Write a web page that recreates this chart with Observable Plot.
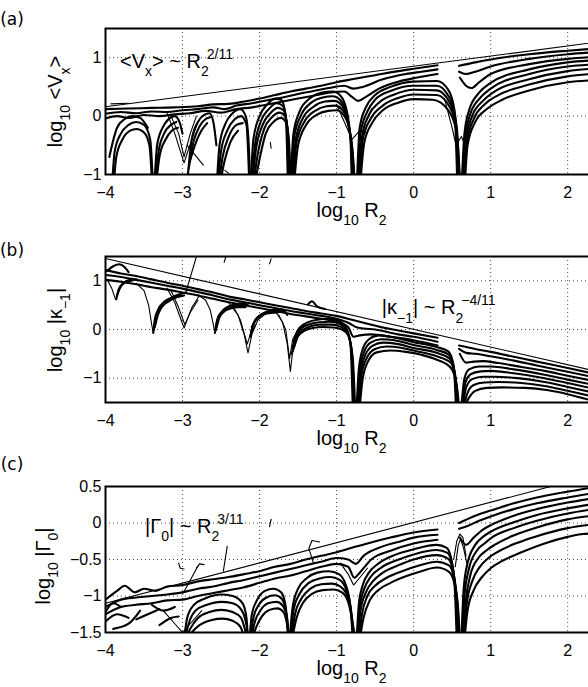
<!DOCTYPE html>
<html><head><meta charset="utf-8">
<script src="https://cdn.jsdelivr.net/npm/d3@7"></script>
<script src="https://cdn.jsdelivr.net/npm/@observablehq/plot@0.6"></script>
<style>
html,body{margin:0;padding:0;background:#fff;overflow:hidden;}
#wrap{position:relative;width:588px;height:687px;overflow:hidden;background:#fff;}
</style></head><body><div id="wrap"></div>
<script>
// ---------- shared ticks ----------
const xTicks = [-4, -3, -2, -1, 0, 1, 2];
const xGrid = [-3, -2, -1, 0, 1, 2];

// ---------- panel (a): log10 <Vx> ----------
const vxTicks = [-1, 0, 1];
const vxGrid = [0, 1];
const vxGuide = [-4, 0.16, 2.4, 1.27];
const vxTop = [
 [-4,0.12,-3.7,0.13,-3.4,0.14,-3.1,0.15,-2.8,0.17,-2.6,0.2,-2.4,0.21,-2.2,0.25,-2.0,0.3,-1.8,0.36,-1.6,0.42,-1.4,0.47,-1.2,0.52,-1.0,0.58,-0.8,0.63,-0.5,0.7,-0.2,0.77,0.0,0.81,0.31,0.87],
 [-4,0.04,-3.8,0.07,-3.6,0.05,-3.4,0.08,-3.2,0.07,-3.0,0.1,-2.8,0.12,-2.6,0.15,-2.45,0.12,-2.3,0.18,-2.1,0.22,-1.9,0.27,-1.7,0.32,-1.5,0.38,-1.3,0.43,-1.1,0.48,-0.9,0.52,-0.78,0.47,-0.66,0.5,-0.4,0.63,-0.1,0.72,0.1,0.76,0.31,0.8],
 [-4,-0.04,-3.85,0.0,-3.7,-0.03,-3.5,0.02,-3.3,0.0,-3.1,0.03,-2.9,0.05,-2.7,0.09,-2.5,0.06,-2.3,0.12,-2.1,0.15,-1.9,0.2,-1.7,0.25,-1.5,0.3,-1.3,0.35,-1.1,0.4,-0.9,0.42,-0.8,0.33,-0.72,0.26,-0.62,0.33,-0.45,0.47,-0.2,0.59,0.05,0.66,0.31,0.72]
];
const vxLeft = [
 [-3.92,-1.3,-3.88,-0.6,-3.8,-0.3,-3.7,-0.15,-3.6,-0.1,-3.5,-0.15,-3.42,-0.4,-3.38,-1.3],
 [-3.9,-1.3,-3.86,-0.7,-3.78,-0.4,-3.68,-0.25,-3.6,-0.22,-3.5,-0.28,-3.43,-0.5,-3.39,-1.3],
 [-3.95,-0.7,-3.85,-0.2,-3.75,-0.05,-3.65,0.0,-3.55,-0.03,-3.45,-0.2],
 [-3.37,-1.3,-3.33,-0.5,-3.26,-0.2,-3.18,-0.05,-3.1,0.0,-3.04,-0.1,-3.0,-0.3],
 [-3.36,-1.3,-3.31,-0.6,-3.24,-0.3,-3.15,-0.15,-3.08,-0.1],
 [-3.35,-1.3,-3.3,-0.7,-3.22,-0.4,-3.14,-0.25,-3.06,-0.2],
 [-2.93,-1.0,-2.88,-0.4,-2.8,-0.1,-2.72,0.02,-2.65,0.05,-2.6,-0.1,-2.56,-0.5],
 [-2.92,-0.9,-2.86,-0.45,-2.78,-0.18,-2.7,-0.05,-2.64,-0.02],
 [-2.91,-0.8,-2.84,-0.5,-2.76,-0.26,-2.68,-0.12],
 [-2.56,-1.3,-2.52,-0.5,-2.45,-0.15,-2.35,0.05,-2.25,0.12,-2.18,0.0,-2.14,-0.5,-2.12,-1.3],
 [-2.55,-1.3,-2.5,-0.6,-2.42,-0.25,-2.32,-0.05,-2.24,0.0,-2.17,-0.15,-2.13,-1.3],
 [-2.54,-1.3,-2.48,-0.7,-2.4,-0.35,-2.3,-0.15,-2.22,-0.12],
 [-2.53,-1.3,-2.46,-0.8,-2.38,-0.45,-2.28,-0.25],
 [-2.12,-1.3,-2.08,-0.4,-2.0,0.0,-1.9,0.2,-1.8,0.3,-1.72,0.28,-1.66,0.0,-1.63,-1.3],
 [-2.11,-1.3,-2.06,-0.5,-1.98,-0.08,-1.88,0.12,-1.78,0.22,-1.7,0.18,-1.65,-0.1,-1.62,-1.3],
 [-2.1,-1.3,-2.05,-0.6,-1.96,-0.15,-1.86,0.05,-1.76,0.14,-1.69,0.1,-1.64,-0.2,-1.61,-1.3],
 [-2.09,-1.3,-2.03,-0.7,-1.94,-0.22,-1.84,-0.02,-1.74,0.06,-1.67,0.0,-1.63,-0.3,-1.6,-1.3],
 [-2.08,-1.3,-2.01,-0.8,-1.92,-0.3,-1.82,-0.1,-1.72,-0.03,-1.66,-0.1,-1.62,-0.4,-1.59,-1.3],
 [-1.6,-1.3,-1.56,-0.3,-1.48,0.08,-1.35,0.3,-1.2,0.4,-1.05,0.42,-0.95,0.35,-0.87,0.1,-0.82,-0.4,-0.8,-1.3],
 [-1.59,-1.3,-1.55,-0.35,-1.46,0.02,-1.33,0.23,-1.18,0.32,-1.05,0.34,-0.95,0.27,-0.87,0.02,-0.81,-0.5,-0.79,-1.3],
 [-1.58,-1.3,-1.53,-0.4,-1.44,-0.04,-1.3,0.16,-1.15,0.25,-1.03,0.26,-0.93,0.18,-0.86,-0.05,-0.8,-0.6,-0.78,-1.3],
 [-1.57,-1.3,-1.52,-0.45,-1.42,-0.1,-1.28,0.09,-1.13,0.17,-1.02,0.18,-0.92,0.1,-0.85,-0.12,-0.79,-0.7,-0.77,-1.3],
 [-1.56,-1.3,-1.5,-0.5,-1.4,-0.16,-1.26,0.02,-1.11,0.09,-1.0,0.1,-0.91,0.02,-0.84,-0.2,-0.78,-0.8,-0.76,-1.3]
];
const vxMid = [
 [-0.74,-1.3,-0.7,-0.2,-0.62,0.15,-0.5,0.36,-0.3,0.5,0.0,0.59,0.3,0.6,0.45,0.45,0.53,0.1,0.57,-1.3],
 [-0.73,-1.3,-0.69,-0.3,-0.6,0.08,-0.5,0.28,-0.3,0.43,0.0,0.52,0.3,0.52,0.45,0.35,0.54,0.0,0.58,-1.3],
 [-0.72,-1.3,-0.67,-0.35,-0.58,0.02,-0.45,0.23,-0.25,0.37,0.0,0.45,0.3,0.44,0.46,0.25,0.55,-0.1,0.59,-1.3],
 [-0.71,-1.3,-0.66,-0.4,-0.56,-0.05,-0.4,0.18,-0.2,0.31,0.0,0.37,0.3,0.36,0.47,0.15,0.56,-0.2,0.6,-1.3],
 [-0.7,-1.3,-0.64,-0.45,-0.54,-0.12,-0.4,0.1,-0.2,0.23,0.0,0.29,0.25,0.28,0.45,0.1,0.56,-0.3,0.61,-1.3]
];
const vxRight = [
 [0.59,0.86,0.8,0.92,1.0,0.97,1.5,1.06,2.0,1.12,2.4,1.16],
 [0.59,0.76,0.68,0.72,0.8,0.76,1.0,0.85,1.5,0.98,2.0,1.06,2.4,1.1],
 [0.6,0.66,0.68,0.52,0.75,0.48,0.85,0.58,1.0,0.72,1.5,0.89,2.0,0.98,2.4,1.02],
 [0.62,-1.3,0.66,-0.3,0.72,0.1,0.85,0.4,1.0,0.57,1.5,0.8,2.0,0.92,2.4,0.96],
 [0.63,-1.3,0.67,-0.35,0.74,0.05,0.87,0.32,1.0,0.47,1.5,0.72,2.0,0.85,2.4,0.89],
 [0.64,-1.3,0.68,-0.4,0.76,0.0,0.9,0.26,1.05,0.42,1.5,0.63,2.0,0.77,2.4,0.82],
 [0.65,-1.3,0.69,-0.45,0.78,-0.05,0.92,0.2,1.1,0.36,1.5,0.54,2.0,0.68,2.4,0.73],
 [0.66,-1.3,0.7,-0.5,0.8,-0.1,0.95,0.12,1.15,0.28,1.5,0.44,2.0,0.58,2.4,0.62]
];
const vxThin = [
 [-3.2,0.05,-3.1,-0.3,-2.98,-0.8,-2.88,-0.4,-2.8,-0.1],
 [-3.15,0.0,-3.05,-0.3,-2.98,-0.7,-2.9,-0.3,-2.82,0.0],
 [-1.0,0.2,-0.9,-0.1,-0.8,-0.4,-0.7,-0.25,-0.6,-0.3],
 [0.4,0.3,0.5,-0.2,0.55,-0.5,0.62,-0.35,0.7,-0.6]
];
const vxStray = [
 [-2.94,-0.5,-2.73,-0.84],
 [-1.86,-0.45,-1.85,-0.55],
 [-3.93,0.21,-3.7,0.22],
 [-2.45,-0.93,-2.4,-0.98]
];

// ---------- panel (b): log10 |kappa_-1| ----------
const kTicks = [-1, 0, 1];
const kGrid = [-1, 0, 1];
const kGuide = [-4, 1.46, 2.4, -0.87];
const kTop = [
 [-4,1.22,-3.8,1.15,-3.6,1.1,-3.4,1.03,-3.2,0.96,-3.0,0.9,-2.8,0.83,-2.6,0.76,-2.4,0.68,-2.2,0.62,-2.0,0.56,-1.8,0.5,-1.6,0.44,-1.4,0.38,-1.2,0.33,-1.0,0.28,-0.8,0.2,-0.6,0.12,-0.4,0.04,-0.2,-0.02,0.0,-0.08,0.31,-0.17],
 [-4,1.12,-3.8,1.08,-3.6,1.02,-3.4,0.96,-3.2,0.9,-3.0,0.84,-2.8,0.77,-2.6,0.7,-2.4,0.62,-2.2,0.56,-2.0,0.5,-1.8,0.44,-1.6,0.38,-1.4,0.33,-1.2,0.28,-1.0,0.22,-0.85,0.14,-0.75,0.05,-0.65,0.02,-0.5,0.0,-0.2,-0.1,0.0,-0.15,0.31,-0.25],
 [-4,1.02,-3.8,0.98,-3.6,0.93,-3.4,0.87,-3.2,0.82,-3.0,0.76,-2.8,0.7,-2.6,0.63,-2.4,0.56,-2.2,0.5,-2.0,0.44,-1.8,0.38,-1.6,0.32,-1.4,0.27,-1.2,0.22,-1.0,0.16,-0.85,0.05,-0.78,-0.15,-0.7,-0.12,-0.55,-0.1,-0.3,-0.15,0.0,-0.22,0.31,-0.33]
];
const kLeft = [
 [-3.86,0.62,-3.83,0.82,-3.77,0.95,-3.68,1.02,-3.6,1.03],
 [-3.85,0.7,-3.81,0.86,-3.75,0.96,-3.66,1.0],
 [-3.38,-0.07,-3.36,0.2,-3.32,0.4,-3.25,0.55,-3.15,0.65,-3.05,0.72,-2.95,0.76],
 [-3.37,0.0,-3.34,0.25,-3.3,0.42,-3.22,0.56,-3.12,0.64,-3.02,0.7],
 [-3.36,0.05,-3.32,0.3,-3.27,0.46,-3.18,0.58,-3.08,0.66,-2.98,0.7],
 [-2.58,-0.07,-2.55,0.2,-2.5,0.35,-2.42,0.46,-2.32,0.52,-2.22,0.54,-2.15,0.5],
 [-2.57,-0.02,-2.54,0.22,-2.48,0.36,-2.4,0.44,-2.3,0.49,-2.2,0.5],
 [-2.56,0.03,-2.52,0.25,-2.46,0.37,-2.38,0.43,-2.28,0.46,-2.18,0.46],
 [-2.12,-0.15,-2.08,0.12,-2.0,0.28,-1.9,0.37,-1.8,0.41,-1.7,0.4,-1.64,0.3],
 [-2.11,-0.05,-2.06,0.18,-1.98,0.3,-1.88,0.36,-1.78,0.38,-1.68,0.36],
 [-2.1,0.05,-2.04,0.22,-1.96,0.31,-1.86,0.34,-1.76,0.35],
 [-1.58,-0.5,-1.54,-0.15,-1.47,0.05,-1.37,0.15,-1.25,0.2,-1.1,0.22,-0.98,0.18,-0.88,0.05,-0.82,-0.3,-0.79,-1.6],
 [-1.57,-0.45,-1.53,-0.15,-1.46,0.02,-1.35,0.11,-1.22,0.15,-1.08,0.16,-0.96,0.12,-0.87,0.0,-0.81,-0.4,-0.78,-1.6],
 [-1.56,-0.4,-1.51,-0.15,-1.44,-0.01,-1.33,0.07,-1.2,0.1,-1.06,0.1,-0.95,0.06,-0.86,-0.06,-0.8,-0.5,-0.77,-1.6],
 [-1.55,-0.35,-1.5,-0.14,-1.42,-0.03,-1.31,0.03,-1.18,0.05,-1.04,0.04,-0.93,0.0,-0.85,-0.12,-0.79,-0.6,-0.76,-1.6],
 [-3.98,1.2,-3.9,1.3,-3.82,1.34,-3.75,1.28,-3.7,1.18],
 [-1.37,0.52,-1.32,0.58,-1.25,0.47,-1.15,0.42]
];
const kMid = [
 [-0.74,-1.6,-0.71,-0.8,-0.66,-0.4,-0.58,-0.2,-0.45,-0.12,-0.3,-0.15,0.0,-0.26,0.3,-0.36,0.45,-0.45,0.52,-0.75,0.55,-1.6],
 [-0.73,-1.6,-0.7,-0.85,-0.64,-0.45,-0.56,-0.27,-0.42,-0.2,-0.25,-0.22,0.0,-0.32,0.3,-0.42,0.46,-0.52,0.53,-0.85,0.56,-1.6],
 [-0.72,-1.6,-0.69,-0.9,-0.62,-0.5,-0.53,-0.33,-0.4,-0.27,-0.2,-0.3,0.0,-0.38,0.3,-0.48,0.47,-0.6,0.54,-0.95,0.57,-1.6],
 [-0.71,-1.6,-0.68,-0.95,-0.6,-0.56,-0.5,-0.4,-0.35,-0.35,-0.15,-0.38,0.05,-0.45,0.3,-0.55,0.48,-0.68,0.55,-1.05,0.58,-1.6],
 [-0.7,-1.6,-0.66,-1.0,-0.58,-0.62,-0.48,-0.47,-0.3,-0.43,-0.1,-0.46,0.1,-0.52,0.3,-0.62,0.48,-0.78,0.56,-1.15,0.59,-1.6]
];
const kRight = [
 [0.59,-0.33,0.8,-0.4,1.0,-0.46,1.3,-0.56,1.6,-0.66,2.0,-0.79,2.4,-0.93],
 [0.59,-0.4,0.68,-0.48,0.8,-0.5,1.0,-0.55,1.3,-0.64,1.6,-0.74,2.0,-0.87,2.4,-1.0],
 [0.6,-0.5,0.68,-0.68,0.78,-0.66,0.9,-0.65,1.1,-0.69,1.4,-0.77,1.7,-0.85,2.0,-0.95,2.4,-1.08],
 [0.62,-1.6,0.66,-1.0,0.72,-0.82,0.85,-0.76,1.0,-0.76,1.3,-0.82,1.7,-0.93,2.0,-1.03,2.4,-1.16],
 [0.63,-1.6,0.67,-1.1,0.74,-0.92,0.87,-0.86,1.0,-0.85,1.3,-0.9,1.7,-1.0,2.0,-1.1,2.4,-1.24],
 [0.64,-1.6,0.68,-1.2,0.76,-1.02,0.9,-0.97,1.05,-0.97,1.35,-1.0,1.7,-1.08,2.0,-1.18,2.4,-1.32],
 [0.65,-1.6,0.7,-1.3,0.78,-1.14,0.92,-1.09,1.1,-1.08,1.4,-1.1,1.7,-1.16,2.0,-1.26,2.4,-1.4],
 [0.66,-1.6,0.72,-1.4,0.8,-1.26,0.95,-1.2,1.15,-1.19,1.45,-1.2,1.75,-1.25,2.0,-1.33,2.4,-1.5]
];
const kThin = [
 [-3.97,1.0,-3.92,0.85,-3.87,0.62],
 [-3.6,0.95,-3.5,0.8,-3.44,0.5,-3.4,0.1,-3.38,-0.07],
 [-3.2,0.85,-3.1,0.55,-2.98,0.03,-2.88,0.45,-2.78,0.7],
 [-3.15,0.8,-3.05,0.45,-2.97,0.1,-2.9,0.35,-2.8,0.6],
 [-2.8,0.72,-2.7,0.6,-2.64,0.4,-2.6,0.1,-2.58,-0.07],
 [-2.4,0.55,-2.28,0.3,-2.2,-0.1,-2.15,-0.48,-2.1,-0.1,-2.02,0.2,-1.9,0.35],
 [-2.35,0.5,-2.25,0.2,-2.16,-0.3,-2.12,-0.1,-2.05,0.1],
 [-1.8,0.38,-1.7,0.15,-1.64,-0.3,-1.6,-0.86,-1.56,-0.3,-1.5,-0.02,-1.4,0.12],
 [-1.75,0.3,-1.66,0.0,-1.61,-0.6,-1.57,-0.2,-1.48,0.05]
];
const kStray = [
 [-2.81,1.55,-2.96,0.75],
 [-2.44,1.48,-2.46,1.38],
 [-1.85,1.45,-1.87,1.35]
];

// ---------- panel (c): log10 |Gamma_0| ----------
const gTicks = [-1.5, -1, -0.5, 0, 0.5];
const gGrid = [-1, -0.5, 0];
const gGuide = [-4, -1.1, 1.78, 0.5];
const gPointer = [-2.42, -0.32, -2.47, -0.66];
const gTop = [
 [-4,-1.05,-3.85,-0.93,-3.75,-0.86,-3.62,-0.95,-3.5,-0.9,-3.35,-0.93,-3.2,-0.87,-3.0,-0.85,-2.8,-0.8,-2.6,-0.77,-2.4,-0.74,-2.2,-0.7,-2.0,-0.66,-1.8,-0.6,-1.6,-0.56,-1.4,-0.5,-1.2,-0.45,-1.0,-0.4,-0.8,-0.34,-0.6,-0.28,-0.3,-0.2,0.0,-0.13,0.31,-0.09],
 [-4,-1.15,-3.8,-1.05,-3.6,-1.02,-3.4,-1.0,-3.2,-0.98,-3.0,-0.95,-2.8,-0.9,-2.6,-0.87,-2.4,-0.82,-2.2,-0.78,-2.0,-0.73,-1.8,-0.68,-1.6,-0.63,-1.4,-0.58,-1.2,-0.53,-1.0,-0.48,-0.85,-0.5,-0.75,-0.56,-0.65,-0.45,-0.4,-0.32,-0.2,-0.26,0.0,-0.2,0.31,-0.16],
 [-4,-1.25,-3.8,-1.15,-3.6,-1.12,-3.4,-1.1,-3.2,-1.06,-3.0,-1.05,-2.8,-1.0,-2.6,-0.96,-2.4,-0.92,-2.2,-0.88,-2.0,-0.82,-1.8,-0.76,-1.6,-0.72,-1.4,-0.66,-1.2,-0.6,-1.0,-0.56,-0.85,-0.6,-0.77,-0.75,-0.7,-0.68,-0.55,-0.5,-0.3,-0.38,0.0,-0.28,0.31,-0.23]
];
const gLeft = [
 [-4,-1.35,-3.85,-1.25,-3.7,-1.3],
 [-3.9,-1.45,-3.7,-1.38,-3.55,-1.2],
 [-3.6,-1.32,-3.45,-1.25,-3.3,-1.18],
 [-3.4,-1.12,-3.25,-1.2,-3.1,-1.15],
 [-3.3,-1.4,-3.15,-1.3,-3.05,-1.28],
 [-4,-1.22,-3.9,-1.1,-3.8,-1.15],
 [-2.98,-1.6,-2.94,-1.3,-2.85,-1.12,-2.7,-1.03,-2.5,-0.98,-2.35,-1.0,-2.22,-1.1,-2.17,-1.3,-2.15,-1.6],
 [-2.97,-1.6,-2.92,-1.38,-2.83,-1.2,-2.68,-1.12,-2.5,-1.08,-2.35,-1.1,-2.23,-1.2,-2.17,-1.4,-2.15,-1.6],
 [-2.96,-1.6,-2.9,-1.45,-2.8,-1.3,-2.65,-1.22,-2.5,-1.19,-2.35,-1.22,-2.24,-1.3,-2.18,-1.5],
 [-2.95,-1.6,-2.88,-1.5,-2.78,-1.4,-2.62,-1.33,-2.48,-1.31,-2.35,-1.34,-2.25,-1.42,-2.19,-1.6],
 [-2.13,-1.6,-2.1,-1.25,-2.03,-1.05,-1.93,-0.93,-1.82,-0.9,-1.72,-0.95,-1.66,-1.15,-1.63,-1.6],
 [-2.12,-1.6,-2.08,-1.3,-2.01,-1.12,-1.91,-1.02,-1.8,-0.99,-1.71,-1.04,-1.65,-1.25,-1.62,-1.6],
 [-2.11,-1.6,-2.06,-1.35,-1.99,-1.2,-1.89,-1.1,-1.78,-1.08,-1.7,-1.13,-1.64,-1.32,-1.62,-1.6],
 [-2.1,-1.6,-2.04,-1.42,-1.97,-1.28,-1.87,-1.19,-1.77,-1.17,-1.69,-1.22,-1.64,-1.4,-1.61,-1.6],
 [-1.61,-1.6,-1.57,-1.15,-1.5,-0.9,-1.38,-0.75,-1.25,-0.68,-1.1,-0.66,-0.97,-0.7,-0.88,-0.85,-0.82,-1.15,-0.79,-1.6],
 [-1.6,-1.6,-1.56,-1.2,-1.48,-0.97,-1.36,-0.82,-1.22,-0.76,-1.08,-0.74,-0.96,-0.78,-0.87,-0.93,-0.81,-1.22,-0.78,-1.6],
 [-1.59,-1.6,-1.54,-1.25,-1.46,-1.04,-1.34,-0.9,-1.2,-0.84,-1.06,-0.83,-0.95,-0.87,-0.86,-1.0,-0.8,-1.3,-0.77,-1.6],
 [-1.58,-1.6,-1.52,-1.3,-1.44,-1.1,-1.32,-0.97,-1.18,-0.92,-1.04,-0.91,-0.93,-0.95,-0.85,-1.08,-0.79,-1.38,-0.76,-1.6]
];
const gMid = [
 [-0.74,-1.6,-0.71,-1.1,-0.66,-0.85,-0.58,-0.68,-0.45,-0.55,-0.25,-0.44,0.0,-0.36,0.3,-0.3,0.43,-0.34,0.5,-0.55,0.54,-1.0,0.56,-1.6],
 [-0.73,-1.6,-0.7,-1.15,-0.64,-0.9,-0.56,-0.74,-0.42,-0.61,-0.22,-0.51,0.0,-0.43,0.3,-0.37,0.44,-0.41,0.51,-0.62,0.55,-1.05,0.57,-1.6],
 [-0.72,-1.6,-0.69,-1.2,-0.62,-0.95,-0.53,-0.8,-0.4,-0.68,-0.2,-0.58,0.0,-0.5,0.3,-0.44,0.45,-0.49,0.52,-0.7,0.56,-1.1,0.58,-1.6],
 [-0.71,-1.6,-0.67,-1.25,-0.6,-1.0,-0.5,-0.86,-0.35,-0.75,-0.15,-0.66,0.05,-0.59,0.3,-0.53,0.46,-0.58,0.53,-0.78,0.57,-1.15,0.59,-1.6],
 [-0.7,-1.6,-0.65,-1.3,-0.57,-1.06,-0.46,-0.92,-0.3,-0.82,-0.1,-0.73,0.1,-0.66,0.3,-0.61,0.46,-0.67,0.54,-0.88,0.58,-1.2,0.6,-1.6]
];
const gRight = [
 [0.59,0.0,0.8,0.1,1.0,0.17,1.3,0.27,1.6,0.35,2.0,0.43,2.4,0.5],
 [0.59,-0.08,0.7,-0.04,0.85,0.03,1.0,0.09,1.3,0.19,1.6,0.27,2.0,0.35,2.4,0.42],
 [0.6,-0.2,0.68,-0.3,0.78,-0.2,0.9,-0.09,1.0,-0.03,1.3,0.1,1.6,0.19,2.0,0.28,2.4,0.35],
 [0.62,-1.6,0.65,-0.9,0.7,-0.55,0.8,-0.3,0.9,-0.19,1.0,-0.12,1.3,0.01,1.6,0.11,2.0,0.2,2.4,0.27],
 [0.63,-1.6,0.66,-1.0,0.72,-0.62,0.82,-0.38,0.92,-0.28,1.0,-0.21,1.3,-0.07,1.6,0.03,2.0,0.13,2.4,0.2],
 [0.64,-1.6,0.68,-1.05,0.74,-0.7,0.84,-0.48,0.94,-0.38,1.05,-0.3,1.3,-0.17,1.6,-0.06,2.0,0.05,2.4,0.11],
 [0.65,-1.6,0.69,-1.1,0.76,-0.8,0.86,-0.6,0.97,-0.48,1.1,-0.39,1.35,-0.27,1.6,-0.18,2.0,-0.07,2.4,-0.01],
 [0.66,-1.6,0.7,-1.2,0.78,-0.92,0.88,-0.75,1.0,-0.62,1.15,-0.52,1.4,-0.4,1.7,-0.28,2.0,-0.19,2.2,-0.15,2.4,-0.14]
];
const gThin = [
 [-3.25,-1.2,-3.1,-1.38,-3.0,-1.5,-2.9,-1.38,-2.75,-1.2],
 [0.52,-0.5,0.56,-0.25,0.6,-0.15,0.64,-0.2,0.68,-0.45],
 [0.54,-0.6,0.58,-0.3,0.61,-0.22,0.65,-0.35,0.7,-0.6],
 [-0.95,-0.55,-0.85,-0.7,-0.78,-0.85,-0.7,-0.75,-0.6,-0.62]
];
const gStray = [
 [-2.99,-0.96,-2.8,-0.59],
 [-2.82,-0.62,-2.78,-0.56,-2.72,-0.57],
 [-1.22,-0.26,-1.32,-0.24,-1.36,-0.35,-1.3,-0.55],
 [-1.85,0.05,-1.87,-0.05],
 [-3.05,-0.55,-3.03,-0.62,-2.98,-0.63]
];

// ---------- helpers ----------
const FONT = "'Liberation Sans', Arial, Helvetica, sans-serif";
const fmt = d3.format("~g");
function rows(curves, tag) {
  const out = [];
  curves.forEach((c, i) => { for (let k = 0; k < c.length; k += 2) out.push({x: c[k], y: c[k + 1], id: tag + i}); });
  return out;
}
function rich(parent, x, y, parts, size, anchor) {
  const t = parent.append("text").attr("x", x).attr("y", y)
    .attr("text-anchor", anchor || "start").attr("fill", "black")
    .style("font-family", FONT).style("font-size", size + "px").style("white-space", "pre");
  let shift = 0;
  parts.forEach(([s, k]) => {
    const small = k ? Math.round(size * 0.72) : size;
    const target = k === 1 ? size * 0.42 : k === 2 ? -size * 0.45 : 0;
    const ts = t.append("tspan").attr("dy", target - shift).style("font-size", small + "px").text(s);
    if (k === 2) ts.attr("dx", -2);
    shift = target;
  });
  return t;
}

const wrap = document.getElementById("wrap");

function panel(cfg) {
  const p = Plot.plot({
    width: 600, height: 229,
    marginLeft: 105, marginRight: 2, marginTop: 28, marginBottom: 55,
    style: {fontFamily: FONT, fontSize: "16px", background: "transparent", maxWidth: "none", overflow: "visible", color: "black"},
    x: {domain: [-4, 2.4], ticks: xTicks, tickSize: 0, tickPadding: 12, tickFormat: fmt, label: null},
    y: {domain: cfg.domain, ticks: cfg.ticks, tickSize: 0, tickPadding: 4, tickFormat: fmt, label: null},
    marks: [
      Plot.ruleX(xGrid, {stroke: "#333", strokeDasharray: "1,3", strokeWidth: 0.9}),
      Plot.ruleY(cfg.grid, {stroke: "#333", strokeDasharray: "1,3", strokeWidth: 0.9}),
      Plot.line(rows(cfg.thin, "t"), {x: "x", y: "y", z: "id", stroke: "black", strokeWidth: 1.1, curve: "linear", clip: true}),
      Plot.line(rows(cfg.stray, "s"), {x: "x", y: "y", z: "id", stroke: "black", strokeWidth: 1.1, curve: "linear", clip: true}),
      Plot.line(rows([].concat(cfg.top, cfg.left, cfg.mid, cfg.right), "c"), {x: "x", y: "y", z: "id", stroke: "black", strokeWidth: 2.1, curve: "monotone-x", clip: true}),
      Plot.line(rows([cfg.guide], "g"), {x: "x", y: "y", z: "id", stroke: "black", strokeWidth: 1.1, clip: true}),
      Plot.frame({stroke: "black", strokeWidth: 2})
    ]
  });
  p.style.position = "absolute";
  p.style.left = "0px";
  p.style.top = cfg.top0 + "px";
  wrap.appendChild(p);
  const sx = p.scale("x"), sy = p.scale("y");
  const g = d3.select(p);
  g.append("text").attr("x", 12).attr("y", cfg.letterY).attr("fill", "black")
    .style("font-family", "'DejaVu Sans', sans-serif").style("font-size", "17px").text(cfg.letter);
  rich(g, sx.apply(cfg.note[0]), sy.apply(cfg.note[1]), cfg.noteParts, 20, "start");
  const xr = sx.range;
  rich(g, (xr[0] + xr[1]) / 2, 28 + 146 + 43, [["log", 0], ["10", 1], [" R", 0], ["2", 1]], 20, "middle");
  const yg = g.append("g").attr("transform", `translate(${cfg.ylab[0]},${cfg.ylab[1]}) rotate(-90)`);
  rich(yg, 0, 0, cfg.ylabParts, 20, "middle");
}

panel({
  top0: 0, domain: [-1, 1.5], ticks: vxTicks, grid: vxGrid, guide: vxGuide,
  top: vxTop, left: vxLeft, mid: vxMid, right: vxRight, thin: vxThin, stray: vxStray,
  letter: "(a)", letterY: 25,
  note: [-3.805, 0.818], noteParts: [["<V", 0], ["x", 1], [">", 0], [" ~ ", 0], ["R", 0], ["2", 1], ["2/11", 2]],
  ylab: [62, 101.5], ylabParts: [["log", 0], ["10", 1], [" <V", 0], ["x", 1], [">", 0]]
});
panel({
  top0: 228, domain: [-1.5, 1.5], ticks: kTicks, grid: kGrid, guide: kGuide,
  top: kTop, left: kLeft, mid: kMid, right: kRight, thin: kThin, stray: kStray,
  letter: "(b)", letterY: 28,
  note: [-0.406, 0.30], noteParts: [["|κ", 0], ["−1", 1], ["|", 0], [" ~ ", 0], ["R", 0], ["2", 1], ["−4/11", 2]],
  ylab: [62, 102], ylabParts: [["log", 0], ["10", 1], [" |κ", 0], ["−1", 1], ["|", 0]]
});
panel({
  top0: 458, domain: [-1.5, 0.5], ticks: gTicks, grid: gGrid, guide: gGuide,
  top: gTop, left: gLeft, mid: gMid, right: gRight, thin: gThin, stray: gStray.concat([gPointer]),
  letter: "(c)", letterY: 12,
  note: [-3.48, -0.14], noteParts: [["|Γ", 0], ["0", 1], ["|", 0], [" ~ ", 0], ["R", 0], ["2", 1], ["3/11", 2]],
  ylab: [50, 108], ylabParts: [["log", 0], ["10", 1], [" |Γ", 0], ["0", 1], ["|", 0]]
});
</script></body></html>
